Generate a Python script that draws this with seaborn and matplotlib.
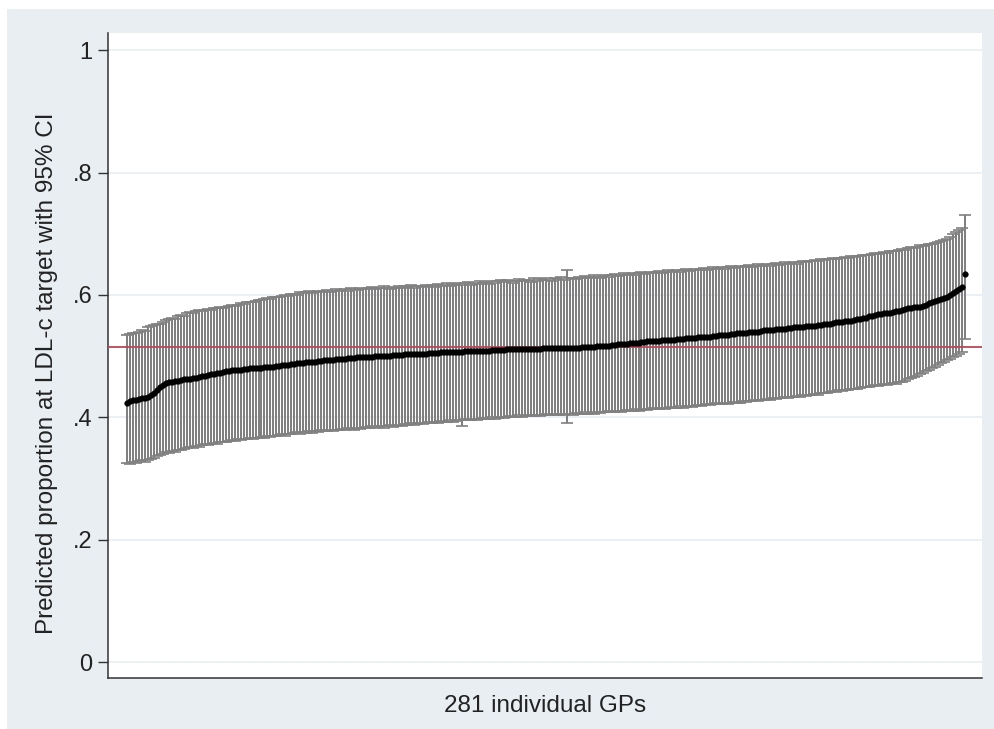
import numpy as np
import pandas as pd
import seaborn as sns
import matplotlib
matplotlib.use("Agg")
import matplotlib.pyplot as plt
from matplotlib.patches import Rectangle

# ---- data (sorted GP predictions with 95% CI) ----
est = [
    0.424, 0.426, 0.428, 0.429, 0.430, 0.431, 0.432, 0.433, 0.436, 0.440,
    0.445, 0.449, 0.452, 0.456, 0.457, 0.458, 0.459, 0.460, 0.461, 0.462,
    0.463, 0.463, 0.464, 0.465, 0.466, 0.467, 0.468, 0.469, 0.470, 0.471,
    0.472, 0.473, 0.474, 0.475, 0.476, 0.477, 0.477, 0.478, 0.478, 0.479,
    0.479, 0.480, 0.480, 0.481, 0.481, 0.481, 0.482, 0.482, 0.483, 0.483,
    0.484, 0.484, 0.485, 0.485, 0.486, 0.487, 0.487, 0.488, 0.489, 0.489,
    0.490, 0.490, 0.491, 0.491, 0.492, 0.492, 0.493, 0.493, 0.494, 0.494,
    0.495, 0.495, 0.496, 0.496, 0.497, 0.497, 0.497, 0.498, 0.498, 0.498,
    0.499, 0.499, 0.499, 0.500, 0.500, 0.500, 0.501, 0.501, 0.501, 0.502,
    0.502, 0.502, 0.502, 0.503, 0.503, 0.503, 0.503, 0.504, 0.504, 0.504,
    0.504, 0.505, 0.505, 0.505, 0.505, 0.506, 0.506, 0.506, 0.506, 0.507,
    0.507, 0.507, 0.507, 0.508, 0.508, 0.508, 0.508, 0.509, 0.509, 0.509,
    0.509, 0.509, 0.510, 0.510, 0.510, 0.510, 0.510, 0.511, 0.511, 0.511,
    0.511, 0.511, 0.511, 0.512, 0.512, 0.512, 0.512, 0.512, 0.512, 0.513,
    0.513, 0.513, 0.513, 0.513, 0.513, 0.514, 0.514, 0.514, 0.514, 0.514,
    0.514, 0.514, 0.515, 0.515, 0.515, 0.515, 0.515, 0.516, 0.516, 0.516,
    0.517, 0.517, 0.518, 0.518, 0.519, 0.519, 0.520, 0.520, 0.521, 0.521,
    0.522, 0.522, 0.523, 0.523, 0.524, 0.524, 0.524, 0.525, 0.525, 0.526,
    0.526, 0.526, 0.527, 0.527, 0.528, 0.528, 0.528, 0.529, 0.529, 0.530,
    0.530, 0.531, 0.531, 0.532, 0.532, 0.532, 0.533, 0.533, 0.534, 0.534,
    0.535, 0.535, 0.536, 0.536, 0.537, 0.537, 0.538, 0.538, 0.539, 0.539,
    0.540, 0.540, 0.541, 0.542, 0.542, 0.543, 0.543, 0.544, 0.544, 0.545,
    0.545, 0.546, 0.546, 0.547, 0.547, 0.548, 0.548, 0.549, 0.549, 0.550,
    0.550, 0.551, 0.551, 0.552, 0.553, 0.553, 0.554, 0.555, 0.555, 0.556,
    0.557, 0.557, 0.558, 0.559, 0.560, 0.561, 0.562, 0.563, 0.565, 0.566,
    0.567, 0.568, 0.569, 0.570, 0.570, 0.571, 0.572, 0.573, 0.574, 0.575,
    0.577, 0.578, 0.579, 0.580, 0.580, 0.581, 0.582, 0.584, 0.586, 0.588,
    0.590, 0.591, 0.593, 0.595, 0.597, 0.600, 0.603, 0.606, 0.610, 0.613,
    0.634,
]

ci_upper = [
    0.534, 0.536, 0.538, 0.537, 0.540, 0.542, 0.541, 0.547, 0.549, 0.551,
    0.553, 0.552, 0.556, 0.559, 0.560, 0.562, 0.561, 0.565, 0.567, 0.566,
    0.570, 0.572, 0.571, 0.573, 0.575, 0.574, 0.576, 0.577, 0.576, 0.578,
    0.579, 0.580, 0.579, 0.581, 0.582, 0.583, 0.582, 0.584, 0.586, 0.585,
    0.588, 0.589, 0.588, 0.590, 0.592, 0.591, 0.593, 0.595, 0.594, 0.596,
    0.597, 0.596, 0.598, 0.600, 0.599, 0.601, 0.602, 0.600, 0.605, 0.603,
    0.604, 0.606, 0.603, 0.605, 0.607, 0.604, 0.606, 0.608, 0.605, 0.607,
    0.609, 0.606, 0.608, 0.610, 0.607, 0.611, 0.609, 0.608, 0.612, 0.610,
    0.609, 0.611, 0.613, 0.610, 0.612, 0.611, 0.614, 0.612, 0.610, 0.613,
    0.612, 0.615, 0.611, 0.614, 0.613, 0.616, 0.612, 0.615, 0.614, 0.613,
    0.617, 0.614, 0.616, 0.613, 0.618, 0.615, 0.617, 0.619, 0.614, 0.618,
    0.616, 0.620, 0.617, 0.619, 0.621, 0.616, 0.620, 0.618, 0.622, 0.619,
    0.621, 0.618, 0.623, 0.620, 0.622, 0.625, 0.621, 0.624, 0.622, 0.620,
    0.623, 0.626, 0.622, 0.625, 0.624, 0.621, 0.627, 0.623, 0.626, 0.624,
    0.628, 0.625, 0.623, 0.627, 0.626, 0.629, 0.624, 0.640, 0.627, 0.628,
    0.626, 0.630, 0.628, 0.631, 0.627, 0.629, 0.632, 0.630, 0.628, 0.631,
    0.633, 0.629, 0.632, 0.634, 0.631, 0.633, 0.635, 0.632, 0.634, 0.636,
    0.633, 0.635, 0.637, 0.634, 0.636, 0.638, 0.635, 0.637, 0.639, 0.636,
    0.638, 0.640, 0.637, 0.639, 0.641, 0.638, 0.640, 0.642, 0.639, 0.641,
    0.643, 0.640, 0.642, 0.644, 0.641, 0.643, 0.645, 0.642, 0.644, 0.646,
    0.643, 0.645, 0.647, 0.644, 0.646, 0.648, 0.645, 0.647, 0.649, 0.646,
    0.648, 0.650, 0.647, 0.649, 0.651, 0.648, 0.650, 0.652, 0.649, 0.651,
    0.653, 0.650, 0.652, 0.654, 0.651, 0.653, 0.655, 0.653, 0.656, 0.655,
    0.657, 0.655, 0.658, 0.657, 0.659, 0.658, 0.660, 0.659, 0.661, 0.660,
    0.662, 0.661, 0.663, 0.662, 0.664, 0.663, 0.665, 0.666, 0.665, 0.667,
    0.668, 0.667, 0.669, 0.670, 0.669, 0.671, 0.672, 0.671, 0.673, 0.675,
    0.674, 0.676, 0.678, 0.677, 0.679, 0.681, 0.680, 0.682, 0.684, 0.683,
    0.685, 0.687, 0.688, 0.690, 0.692, 0.695, 0.700, 0.703, 0.706, 0.709,
    0.730,
]

ci_lower = [
    0.325, 0.323, 0.327, 0.326, 0.328, 0.330, 0.327, 0.330, 0.332, 0.334,
    0.336, 0.338, 0.340, 0.343, 0.342, 0.345, 0.344, 0.347, 0.346, 0.349,
    0.350, 0.351, 0.350, 0.353, 0.352, 0.354, 0.356, 0.355, 0.357, 0.358,
    0.357, 0.359, 0.360, 0.359, 0.361, 0.363, 0.362, 0.364, 0.363, 0.365,
    0.364, 0.366, 0.365, 0.367, 0.366, 0.368, 0.367, 0.369, 0.368, 0.370,
    0.369, 0.371, 0.372, 0.370, 0.373, 0.372, 0.374, 0.376, 0.373, 0.376,
    0.375, 0.377, 0.374, 0.378, 0.376, 0.379, 0.377, 0.378, 0.380, 0.378,
    0.380, 0.379, 0.381, 0.380, 0.382, 0.381, 0.379, 0.383, 0.381, 0.382,
    0.384, 0.382, 0.385, 0.383, 0.384, 0.386, 0.383, 0.385, 0.387, 0.384,
    0.386, 0.388, 0.386, 0.389, 0.387, 0.390, 0.388, 0.389, 0.391, 0.389,
    0.390, 0.392, 0.390, 0.393, 0.391, 0.394, 0.392, 0.393, 0.395, 0.393,
    0.394, 0.396, 0.386, 0.397, 0.395, 0.396, 0.398, 0.396, 0.397, 0.399,
    0.397, 0.398, 0.400, 0.398, 0.399, 0.401, 0.399, 0.400, 0.402, 0.400,
    0.401, 0.403, 0.401, 0.402, 0.402, 0.403, 0.402, 0.404, 0.402, 0.403,
    0.405, 0.403, 0.404, 0.406, 0.404, 0.405, 0.403, 0.391, 0.405, 0.404,
    0.407, 0.405, 0.406, 0.408, 0.406, 0.407, 0.405, 0.408, 0.407, 0.409,
    0.408, 0.410, 0.408, 0.409, 0.411, 0.409, 0.410, 0.412, 0.410, 0.411,
    0.413, 0.411, 0.412, 0.414, 0.412, 0.413, 0.415, 0.413, 0.414, 0.416,
    0.414, 0.415, 0.417, 0.415, 0.416, 0.418, 0.416, 0.417, 0.419, 0.417,
    0.418, 0.420, 0.418, 0.420, 0.422, 0.420, 0.421, 0.423, 0.421, 0.422,
    0.424, 0.422, 0.423, 0.425, 0.423, 0.424, 0.426, 0.425, 0.427, 0.426,
    0.428, 0.427, 0.429, 0.428, 0.430, 0.429, 0.431, 0.430, 0.432, 0.431,
    0.433, 0.432, 0.434, 0.433, 0.435, 0.434, 0.436, 0.435, 0.437, 0.436,
    0.438, 0.437, 0.439, 0.440, 0.439, 0.441, 0.443, 0.442, 0.444, 0.443,
    0.445, 0.444, 0.446, 0.447, 0.446, 0.448, 0.449, 0.450, 0.449, 0.451,
    0.452, 0.451, 0.453, 0.454, 0.453, 0.455, 0.456, 0.455, 0.457, 0.458,
    0.460, 0.462, 0.464, 0.466, 0.468, 0.470, 0.473, 0.475, 0.478, 0.480,
    0.483, 0.486, 0.489, 0.491, 0.494, 0.496, 0.498, 0.501, 0.504, 0.506,
    0.528,
]

overall_mean = 0.515
y_ticks = [0, 0.2, 0.4, 0.6, 0.8, 1.0]
y_tick_labels = ["0", ".2", ".4", ".6", ".8", "1"]
x_label = "281 individual GPs"
y_label = "Predicted proportion at LDL-c target with 95% CI"

# ---- build frame ----
gp_rank = list(range(1, len(est) + 1))
df = pd.DataFrame({"rank": gp_rank, "est": est, "lo": ci_lower, "hi": ci_upper})

sns.set_theme(style="white")
plt.rcParams["font.family"] = ["Liberation Sans", "DejaVu Sans"]

W, H = 994, 729
fig = plt.figure(figsize=(W / 100, H / 100), dpi=100, facecolor="white")
# Stata-like outer graph region
bg = Rectangle((7 / W, 0), 1 - 7 / W, 1 - 9 / H,
               transform=fig.transFigure, facecolor="#e8eef1",
               edgecolor="none", zorder=-10)
fig.add_artist(bg)

ax = fig.add_axes([108 / W, 1 - 678 / H, (982 - 108) / W, (678 - 33) / H])
ax.set_zorder(1)
ax.set_facecolor("white")

# grid lines
for t in y_ticks:
    ax.axhline(t, color="#e6edf1", lw=1.2, zorder=0)

# CI caps and spikes
ax.errorbar(df["rank"], df["est"],
            yerr=[df["est"] - df["lo"], df["hi"] - df["est"]],
            fmt="none", ecolor="#808080", elinewidth=1.45, capsize=4.2,
            capthick=1.2, zorder=2)

# reference line
ax.axhline(overall_mean, color="#b8485a", lw=1.3, zorder=3)

# point estimates
sns.scatterplot(data=df, x="rank", y="est", ax=ax, color="black", s=17,
                edgecolor="black", linewidth=0.3, zorder=4, legend=False)

ax.set_xlim(-5.3, 286.8)
ax.set_ylim(-0.026, 1.028)
ax.set_yticks(y_ticks)
ax.set_yticklabels(y_tick_labels, fontsize=17, color="#222222")
ax.set_xticks([])
ax.tick_params(axis="y", direction="out", length=7, width=1, color="#333333",
               left=True, pad=4)
ax.set_xlabel(x_label, fontsize=17.5, color="#222222", labelpad=12)
ax.set_ylabel(y_label, fontsize=17.5, color="#222222")
ax.yaxis.set_label_coords(-0.057, 0.473)

for side in ["top", "right"]:
    ax.spines[side].set_visible(False)
for side in ["left", "bottom"]:
    ax.spines[side].set_color("#333333")
    ax.spines[side].set_linewidth(1.1)

fig.savefig("out.png", dpi=100, facecolor="white")
